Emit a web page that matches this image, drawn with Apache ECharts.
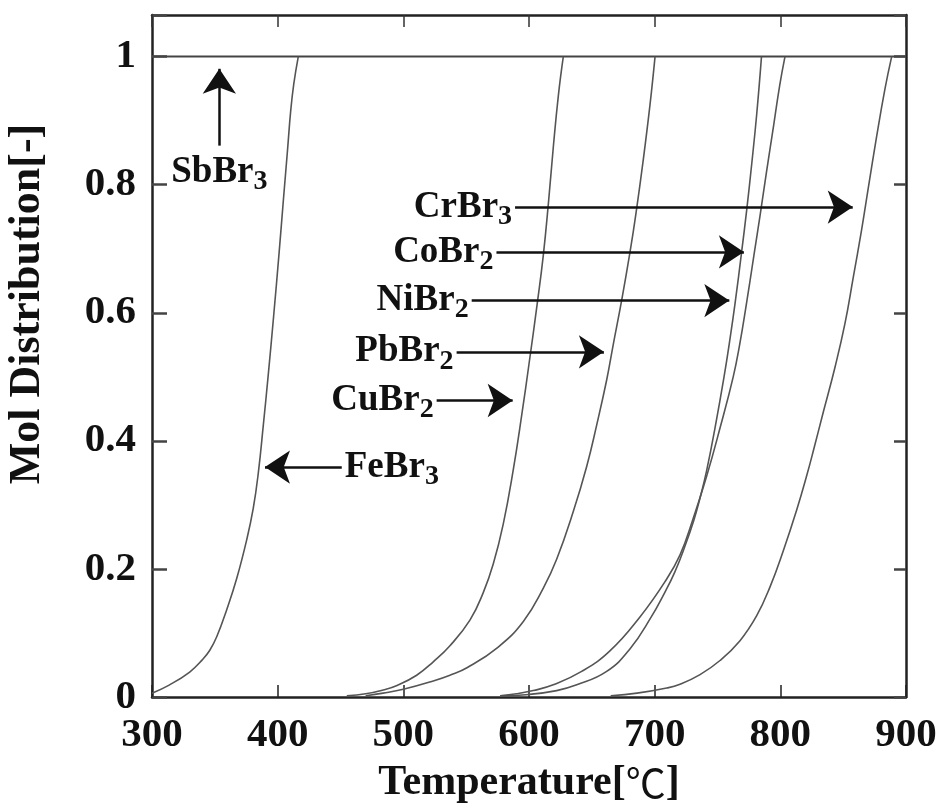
<!DOCTYPE html>
<html>
<head>
<meta charset="utf-8">
<script src="https://cdn.jsdelivr.net/npm/echarts@6/dist/echarts.min.js"></script>
<style>
  html, body { margin: 0; padding: 0; background: #fff; }
  #chart { width: 936px; height: 803px; }
</style>
</head>
<body>
<div id="chart"></div>
<script>
// Axis ranges
const temperatureRange = [300, 900];
const temperatureStep = 100;
const fractionRange = [0, 1.065];
const fractionStep = 0.2;

// Mol distribution of each bromide versus temperature [°C, fraction]
const sbBr3 = [[300, 1], [900, 1]];
const feBr3 = [[300, 0.006], [314, 0.019], [330, 0.039], [340, 0.058], [346, 0.073], [351.5, 0.094], [359.4, 0.136],
  [367.4, 0.185], [375.3, 0.245], [380.6, 0.295], [384.6, 0.35], [388.6, 0.425], [392.6, 0.505],
  [396.8, 0.595], [401.2, 0.695], [404.5, 0.775], [407.8, 0.853], [410.4, 0.916], [412.8, 0.957], [416.4, 1.0]];
const cuBr2 = [[455, 0.002], [470, 0.005], [484, 0.011], [495, 0.018], [510.6, 0.034], [523.8, 0.055],
  [537.1, 0.08], [553, 0.12], [563.6, 0.163], [571.6, 0.208], [579.5, 0.27], [587.5, 0.355],
  [594.2, 0.44], [600, 0.52], [606.6, 0.615], [611.4, 0.69], [615.4, 0.77], [619.4, 0.86],
  [623.4, 0.94], [627.3, 1.0]];
const pbBr2 = [[470, 0.002], [484, 0.006], [500, 0.012], [523.8, 0.025], [537.1, 0.034], [551, 0.046],
  [575.5, 0.078], [595.5, 0.118], [611.4, 0.17], [622, 0.215], [635.3, 0.29], [645.9, 0.36],
  [653.9, 0.425], [661.8, 0.495], [667, 0.55], [673.8, 0.62], [680.4, 0.695], [685.1, 0.755],
  [691, 0.84], [696.3, 0.925], [700.3, 1.0]];
const niBr2 = [[577, 0.002], [600, 0.004], [622, 0.01], [638, 0.019], [661.8, 0.04], [680.3, 0.075],
  [697.3, 0.125], [708, 0.163], [716, 0.195], [724, 0.235], [731, 0.275], [736, 0.31], [741.4, 0.354],
  [748, 0.42], [755.2, 0.5], [760, 0.56], [764, 0.615], [769.2, 0.695], [773.2, 0.76],
  [777.1, 0.83], [781.2, 0.91], [785, 1.0]];
const coBr2 = [[577, 0.002], [590, 0.005], [603.4, 0.01], [619.3, 0.019], [641.9, 0.04], [664.4, 0.072],
  [688.3, 0.125], [708.2, 0.18], [720.2, 0.222], [730, 0.275], [741.4, 0.345], [752, 0.42],
  [762.5, 0.5], [767.6, 0.55], [772.7, 0.61], [779, 0.69], [784.1, 0.755], [789, 0.82],
  [793.7, 0.88], [799.5, 0.955], [803.7, 1.0]];
const crBr3 = [[665, 0.002], [686, 0.006], [709.6, 0.014], [720.2, 0.02], [736.1, 0.035], [752, 0.057],
  [767.9, 0.088], [781.2, 0.127], [791.8, 0.172], [802.3, 0.228], [813, 0.292], [820.9, 0.345],
  [827, 0.39], [834.2, 0.445], [843.5, 0.515], [851.4, 0.583], [858, 0.655], [864.7, 0.73],
  [870, 0.795], [876.6, 0.875], [883.3, 0.95], [888.6, 1.0]];

const curveNames = ['SbBr3', 'FeBr3', 'CuBr2', 'PbBr2', 'NiBr2', 'CoBr2', 'CrBr3'];
const curveData = [sbBr3, feBr3, cuBr2, pbBr2, niBr2, coBr2, crBr3];

// Callout arrows: formula, subscript, tail and tip in data units
const calloutFormula = ['SbBr', 'CrBr', 'CoBr', 'NiBr', 'PbBr', 'CuBr', 'FeBr'];
const calloutSubscript = ['3', '3', '2', '2', '2', '2', '3'];
const calloutTail = [[353.6, 0.861], [588.9, 0.765], [574.1, 0.695], [554.4, 0.619], [542.4, 0.539], [526.5, 0.463], [451, 0.359]];
const calloutTip = [[353.6, 0.981], [857.6, 0.765], [771.0, 0.695], [759.4, 0.619], [659.6, 0.539], [587.0, 0.463], [389.9, 0.359]];

const serif = "'Liberation Serif', 'Times New Roman', serif";
const ink = '#111';

const calloutRich = {
  m: { fontFamily: serif, fontWeight: 'bold', fontSize: 37, color: ink, lineHeight: 47 },
  s: { fontFamily: serif, fontWeight: 'bold', fontSize: 28, color: ink, lineHeight: 28, verticalAlign: 'bottom' }
};

const calloutLines = calloutFormula.map((f, i) => [
  {
    coord: calloutTail[i],
    label: { formatter: '{m|' + f + '}{s|' + calloutSubscript[i] + '}' }
  },
  { coord: calloutTip[i] }
]);

const frameLine = { show: true, onZero: false, lineStyle: { color: '#222', width: 2.5 } };

const series = curveData.map((d, i) => ({
  name: curveNames[i],
  type: 'line',
  data: d,
  showSymbol: false,
  symbol: 'none',
  smooth: i === 0 ? false : 0.45,
  silent: true,
  lineStyle: { color: i === 0 ? '#444' : '#555', width: i === 0 ? 2 : 1.6 },
  z: 2
}));

series[0].markLine = {
  silent: true,
  symbol: ['none', 'arrow'],
  symbolSize: 25,
  lineStyle: { color: ink, width: 2.5, type: 'solid' },
  itemStyle: { color: ink },
  label: { show: true, position: 'start', distance: 3, rich: calloutRich },
  emphasis: { disabled: true },
  animation: false,
  data: calloutLines,
  z: 5
};

const chart = echarts.init(document.getElementById('chart'), null, { renderer: 'canvas' });
chart.setOption({
  animation: false,
  backgroundColor: '#fff',
  grid: { left: 152, right: 30, top: 15, bottom: 106, containLabel: false, outerBoundsMode: 'none' },
  xAxis: [
    {
      type: 'value', position: 'bottom',
      min: temperatureRange[0], max: temperatureRange[1], interval: temperatureStep,
      name: 'Temperature[{c|℃}]', nameLocation: 'middle', nameGap: 65,
      nameTextStyle: {
        fontFamily: serif, fontWeight: 'bold', fontSize: 42, color: ink,
        rich: { c: { fontFamily: "'Noto Sans CJK JP', sans-serif", fontWeight: 'normal', fontSize: 40, color: ink } }
      },
      axisLine: frameLine,
      axisTick: { show: true, inside: true, length: 12, lineStyle: { color: '#222', width: 1.5 } },
      axisLabel: { margin: 18, fontFamily: serif, fontWeight: 'bold', fontSize: 41, color: ink },
      splitLine: { show: false }
    },
    {
      type: 'value', position: 'top',
      min: temperatureRange[0], max: temperatureRange[1], interval: temperatureStep,
      axisLine: frameLine,
      axisTick: { show: true, inside: true, length: 12, lineStyle: { color: '#333', width: 1.5 } },
      axisLabel: { show: false },
      splitLine: { show: false }
    }
  ],
  yAxis: [
    {
      type: 'value', position: 'left',
      min: fractionRange[0], max: fractionRange[1], interval: fractionStep,
      name: 'Mol Distribution[-]', nameLocation: 'middle', nameGap: 102,
      nameTextStyle: { fontFamily: serif, fontWeight: 'bold', fontSize: 44, color: ink, padding: [0, 0, 0, 104] },
      axisLine: frameLine,
      axisTick: { show: true, inside: true, length: 15, lineStyle: { color: '#444', width: 2.5 } },
      axisLabel: {
        margin: 16, fontFamily: serif, fontWeight: 'bold', fontSize: 41, color: ink,
        formatter: v => (v > 1.0001 ? '' : String(+v.toFixed(1)))
      },
      splitLine: { show: false }
    },
    {
      type: 'value', position: 'right',
      min: fractionRange[0], max: fractionRange[1], interval: fractionStep,
      axisLine: frameLine,
      axisTick: { show: true, inside: true, length: 12, lineStyle: { color: '#444', width: 2.5 } },
      axisLabel: { show: false },
      splitLine: { show: false }
    }
  ],
  series: series
});
</script>
</body>
</html>
